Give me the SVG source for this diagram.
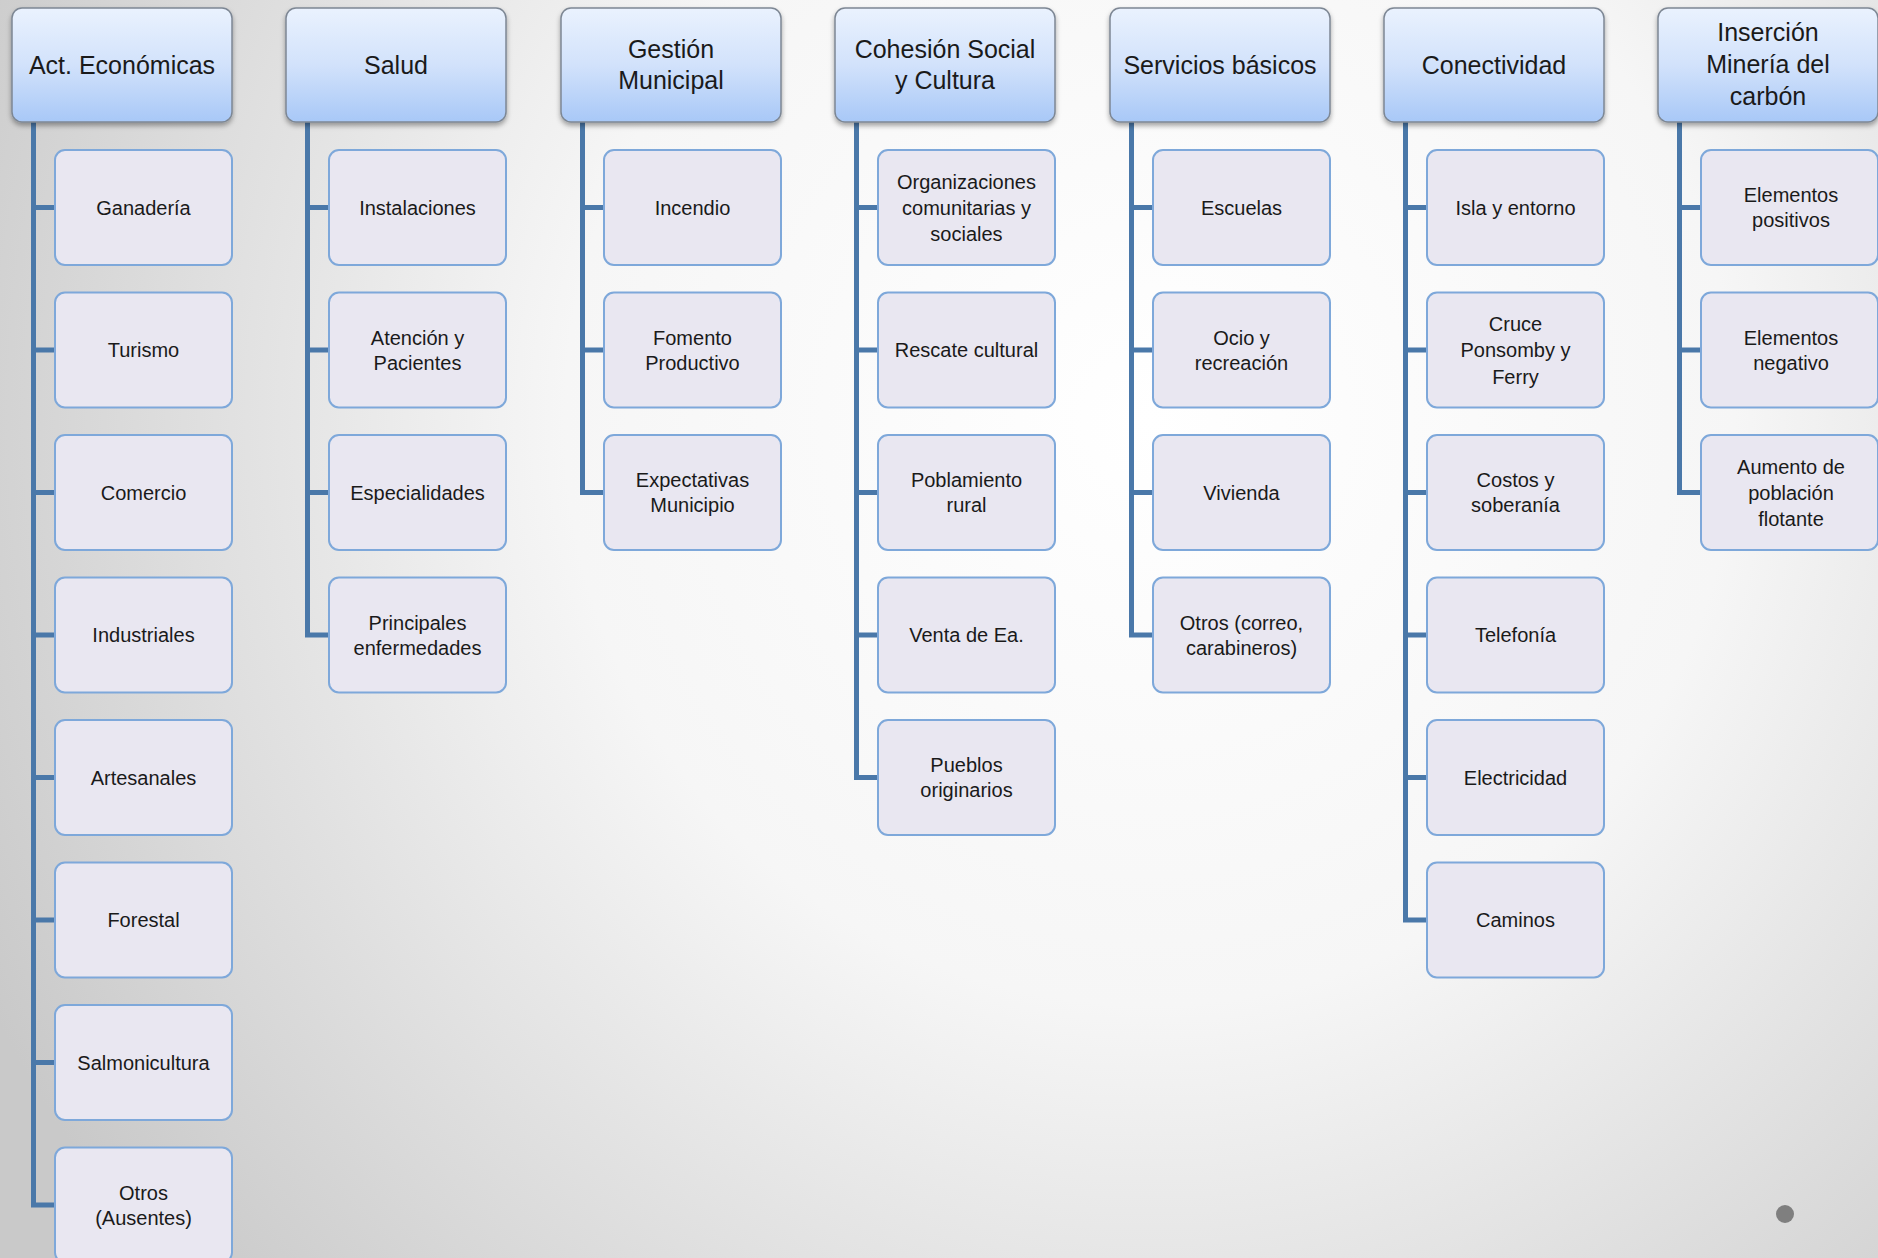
<svg xmlns="http://www.w3.org/2000/svg" width="1878" height="1258" viewBox="0 0 1878 1258">
<defs>
<radialGradient id="bg" gradientUnits="userSpaceOnUse" cx="1150" cy="420" r="1300">
<stop offset="0" stop-color="#ffffff"/>
<stop offset="0.45" stop-color="#f6f6f6"/>
<stop offset="1" stop-color="#c9c9c9"/>
</radialGradient>
<linearGradient id="hg" x1="0" y1="0" x2="0" y2="1">
<stop offset="0" stop-color="#eaf2fe"/>
<stop offset="0.5" stop-color="#d2e2fb"/>
<stop offset="1" stop-color="#a8c8f7"/>
</linearGradient>
<filter id="sh" x="-10%" y="-10%" width="120%" height="130%">
<feDropShadow dx="0" dy="3" stdDeviation="2.5" flood-color="#000" flood-opacity="0.35"/>
</filter>
</defs>
<style>
.hdr{fill:url(#hg);stroke:#7d8794;stroke-width:1.5;filter:url(#sh)}
.box{fill:#e9e7f1;stroke:#7ea8da;stroke-width:2}
.ht{font-family:"Liberation Sans",Arial,sans-serif;font-size:25px;fill:#1a1a1a;text-anchor:middle}
.ct{font-family:"Liberation Sans",Arial,sans-serif;font-size:20px;fill:#1a1a1a;text-anchor:middle}
.con{fill:none;stroke:#4a78a9;stroke-width:5;stroke-linejoin:miter}
</style>
<rect width="1878" height="1258" fill="url(#bg)"/>

<g id="connectors" class="con">
<path d="M33.5 122 V1205 H55 M33.5 207.5 H55 M33.5 350 H55 M33.5 492.5 H55 M33.5 635 H55 M33.5 777.5 H55 M33.5 920 H55 M33.5 1062.5 H55"/>
<path d="M307.5 122 V635 H329 M307.5 207.5 H329 M307.5 350 H329 M307.5 492.5 H329"/>
<path d="M582.5 122 V492.5 H604 M582.5 207.5 H604 M582.5 350 H604"/>
<path d="M856.5 122 V777.5 H878 M856.5 207.5 H878 M856.5 350 H878 M856.5 492.5 H878 M856.5 635 H878"/>
<path d="M1131.5 122 V635 H1153 M1131.5 207.5 H1153 M1131.5 350 H1153 M1131.5 492.5 H1153"/>
<path d="M1405.5 122 V920 H1427 M1405.5 207.5 H1427 M1405.5 350 H1427 M1405.5 492.5 H1427 M1405.5 635 H1427 M1405.5 777.5 H1427"/>
<path d="M1679.5 122 V492.5 H1701 M1679.5 207.5 H1701 M1679.5 350 H1701"/>
</g>

<!-- Headers -->
<g id="h-act"><rect class="hdr" x="12" y="8" width="220" height="114" rx="10"/><text class="ht" x="122" y="74">Act. Económicas</text></g>
<g id="h-salud"><rect class="hdr" x="286" y="8" width="220" height="114" rx="10"/><text class="ht" x="396" y="74">Salud</text></g>
<g id="h-gestion"><rect class="hdr" x="561" y="8" width="220" height="114" rx="10"/><text class="ht" x="671" y="58">Gestión</text><text class="ht" x="671" y="89">Municipal</text></g>
<g id="h-cohesion"><rect class="hdr" x="835" y="8" width="220" height="114" rx="10"/><text class="ht" x="945" y="58">Cohesión Social</text><text class="ht" x="945" y="89">y Cultura</text></g>
<g id="h-servicios"><rect class="hdr" x="1110" y="8" width="220" height="114" rx="10"/><text class="ht" x="1220" y="74">Servicios básicos</text></g>
<g id="h-conectividad"><rect class="hdr" x="1384" y="8" width="220" height="114" rx="10"/><text class="ht" x="1494" y="74">Conectividad</text></g>
<g id="h-insercion"><rect class="hdr" x="1658" y="8" width="220" height="114" rx="10"/><text class="ht" x="1768" y="41">Inserción</text><text class="ht" x="1768" y="73">Minería del</text><text class="ht" x="1768" y="105">carbón</text></g>

<!-- Col 0 -->
<g id="c0-1"><rect class="box" x="55" y="150" width="177" height="115" rx="10"/><text class="ct" x="143.5" y="214.5">Ganadería</text></g>
<g id="c0-2"><rect class="box" x="55" y="292.5" width="177" height="115" rx="10"/><text class="ct" x="143.5" y="357">Turismo</text></g>
<g id="c0-3"><rect class="box" x="55" y="435" width="177" height="115" rx="10"/><text class="ct" x="143.5" y="499.5">Comercio</text></g>
<g id="c0-4"><rect class="box" x="55" y="577.5" width="177" height="115" rx="10"/><text class="ct" x="143.5" y="642">Industriales</text></g>
<g id="c0-5"><rect class="box" x="55" y="720" width="177" height="115" rx="10"/><text class="ct" x="143.5" y="784.5">Artesanales</text></g>
<g id="c0-6"><rect class="box" x="55" y="862.5" width="177" height="115" rx="10"/><text class="ct" x="143.5" y="927">Forestal</text></g>
<g id="c0-7"><rect class="box" x="55" y="1005" width="177" height="115" rx="10"/><text class="ct" x="143.5" y="1069.5">Salmonicultura</text></g>
<g id="c0-8"><rect class="box" x="55" y="1147.5" width="177" height="115" rx="10"/><text class="ct" x="143.5" y="1199.5">Otros</text><text class="ct" x="143.5" y="1224.5">(Ausentes)</text></g>

<!-- Col 1 -->
<g id="c1-1"><rect class="box" x="329" y="150" width="177" height="115" rx="10"/><text class="ct" x="417.5" y="214.5">Instalaciones</text></g>
<g id="c1-2"><rect class="box" x="329" y="292.5" width="177" height="115" rx="10"/><text class="ct" x="417.5" y="344.5">Atención y</text><text class="ct" x="417.5" y="369.5">Pacientes</text></g>
<g id="c1-3"><rect class="box" x="329" y="435" width="177" height="115" rx="10"/><text class="ct" x="417.5" y="499.5">Especialidades</text></g>
<g id="c1-4"><rect class="box" x="329" y="577.5" width="177" height="115" rx="10"/><text class="ct" x="417.5" y="629.5">Principales</text><text class="ct" x="417.5" y="654.5">enfermedades</text></g>

<!-- Col 2 -->
<g id="c2-1"><rect class="box" x="604" y="150" width="177" height="115" rx="10"/><text class="ct" x="692.5" y="214.5">Incendio</text></g>
<g id="c2-2"><rect class="box" x="604" y="292.5" width="177" height="115" rx="10"/><text class="ct" x="692.5" y="344.5">Fomento</text><text class="ct" x="692.5" y="369.5">Productivo</text></g>
<g id="c2-3"><rect class="box" x="604" y="435" width="177" height="115" rx="10"/><text class="ct" x="692.5" y="487">Expectativas</text><text class="ct" x="692.5" y="512">Municipio</text></g>

<!-- Col 3 -->
<g id="c3-1"><rect class="box" x="878" y="150" width="177" height="115" rx="10"/><text class="ct" x="966.5" y="188.5">Organizaciones</text><text class="ct" x="966.5" y="214.5">comunitarias y</text><text class="ct" x="966.5" y="241">sociales</text></g>
<g id="c3-2"><rect class="box" x="878" y="292.5" width="177" height="115" rx="10"/><text class="ct" x="966.5" y="357">Rescate cultural</text></g>
<g id="c3-3"><rect class="box" x="878" y="435" width="177" height="115" rx="10"/><text class="ct" x="966.5" y="487">Poblamiento</text><text class="ct" x="966.5" y="512">rural</text></g>
<g id="c3-4"><rect class="box" x="878" y="577.5" width="177" height="115" rx="10"/><text class="ct" x="966.5" y="642">Venta de Ea.</text></g>
<g id="c3-5"><rect class="box" x="878" y="720" width="177" height="115" rx="10"/><text class="ct" x="966.5" y="772">Pueblos</text><text class="ct" x="966.5" y="797">originarios</text></g>

<!-- Col 4 -->
<g id="c4-1"><rect class="box" x="1153" y="150" width="177" height="115" rx="10"/><text class="ct" x="1241.5" y="214.5">Escuelas</text></g>
<g id="c4-2"><rect class="box" x="1153" y="292.5" width="177" height="115" rx="10"/><text class="ct" x="1241.5" y="344.5">Ocio y</text><text class="ct" x="1241.5" y="369.5">recreación</text></g>
<g id="c4-3"><rect class="box" x="1153" y="435" width="177" height="115" rx="10"/><text class="ct" x="1241.5" y="499.5">Vivienda</text></g>
<g id="c4-4"><rect class="box" x="1153" y="577.5" width="177" height="115" rx="10"/><text class="ct" x="1241.5" y="629.5">Otros (correo,</text><text class="ct" x="1241.5" y="654.5">carabineros)</text></g>

<!-- Col 5 -->
<g id="c5-1"><rect class="box" x="1427" y="150" width="177" height="115" rx="10"/><text class="ct" x="1515.5" y="214.5">Isla y entorno</text></g>
<g id="c5-2"><rect class="box" x="1427" y="292.5" width="177" height="115" rx="10"/><text class="ct" x="1515.5" y="331">Cruce</text><text class="ct" x="1515.5" y="357">Ponsomby y</text><text class="ct" x="1515.5" y="383.5">Ferry</text></g>
<g id="c5-3"><rect class="box" x="1427" y="435" width="177" height="115" rx="10"/><text class="ct" x="1515.5" y="487">Costos y</text><text class="ct" x="1515.5" y="512">soberanía</text></g>
<g id="c5-4"><rect class="box" x="1427" y="577.5" width="177" height="115" rx="10"/><text class="ct" x="1515.5" y="642">Telefonía</text></g>
<g id="c5-5"><rect class="box" x="1427" y="720" width="177" height="115" rx="10"/><text class="ct" x="1515.5" y="784.5">Electricidad</text></g>
<g id="c5-6"><rect class="box" x="1427" y="862.5" width="177" height="115" rx="10"/><text class="ct" x="1515.5" y="927">Caminos</text></g>

<!-- Col 6 -->
<g id="c6-1"><rect class="box" x="1701" y="150" width="177" height="115" rx="10"/><text class="ct" x="1791" y="202">Elementos</text><text class="ct" x="1791" y="227">positivos</text></g>
<g id="c6-2"><rect class="box" x="1701" y="292.5" width="177" height="115" rx="10"/><text class="ct" x="1791" y="344.5">Elementos</text><text class="ct" x="1791" y="369.5">negativo</text></g>
<g id="c6-3"><rect class="box" x="1701" y="435" width="177" height="115" rx="10"/><text class="ct" x="1791" y="473.5">Aumento de</text><text class="ct" x="1791" y="499.5">población</text><text class="ct" x="1791" y="526">flotante</text></g>

<circle cx="1785" cy="1214" r="9" fill="#7f7f7f"/>
</svg>
